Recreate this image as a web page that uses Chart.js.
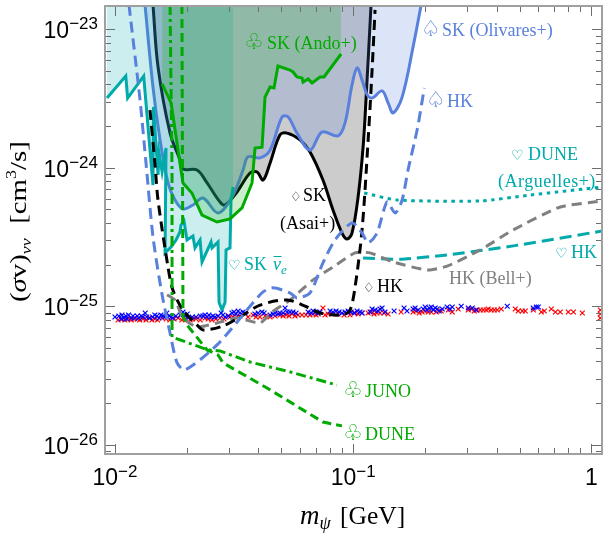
<!DOCTYPE html>
<html lang="en">
<head>
  <meta charset="UTF-8" />
  <title>Dark matter annihilation limits</title>
  <style>
    body { margin: 0; padding: 0; background: white; }
    canvas { display: block; }
  </style>
</head>
<body>
  <canvas id="limits" width="610" height="538"></canvas>

  <script src="https://cdn.jsdelivr.net/npm/chart.js"></script>
  <script>
    // values: mass in GeV, cross section in cm^3/s
    const skNuebarX = [.00926, .0111, .0113, .0132, .01444, .01451, .01516, .01531, .01577, .01638, .01623, .0172, .01805, .01875, .01893, .01949, .02006, .02125, .02168, .02276, .0232, .02531, .02556, .02708, .02735, .02815, .02899, .02927, .03041, .03071, .03133];
    const skNuebarY = [3.19e-24, 4.6e-24, 3.19e-24, 4.6e-24, 7.51e-25, 2.75e-24, 8.87e-25, 1.28e-24, 9.33e-25, 1.39e-24, 2.43e-25, 2.68e-25, 3.01e-25, 3.44e-25, 3.86e-25, 4.13e-25, 3.01e-25, 3.22e-25, 2.64e-25, 3.01e-25, 2.09e-25, 2.91e-25, 2.64e-25, 2.91e-25, 1.07e-25, 9.4e-26, 1.07e-25, 2.55e-25, 2.64e-25, 5.85e-25, 7.27e-25];

    const skAsaiX = [.01444, .01516, .01703, .01875, .0193, .0221, .02436, .02761, .02899, .03255, .0369, .0395, .04187, .04477, .04932, .0528, .05984, .06592, .07468, .0823, .0898, .0943, .0989, .1049, .1101, .1134, .1189];
    const skAsaiY = [1.5e-23, 5.35e-24, 1.78e-24, 1.14e-24, 9.8e-25, 9.64e-25, 7.77e-25, 5.66e-25, 5.39e-25, 6.69e-25, 9.17e-25, 9.33e-25, 8.16e-25, 1.08e-24, 1.73e-24, 1.78e-24, 1.59e-24, 1.3e-24, 8.16e-25, 4.96e-25, 3.38e-25, 3.06e-25, 3.38e-25, 6.15e-25, 1.41e-24, 3.24e-24, 1.5e-23];

    const skOlivaresX = [.01337, .01444, .01546, .0167, .01787, .0193, .02125, .02343, .02708, .03102, .0345, .0362, .04064, .04477, .05028, .05335, .0581, .06592, .07394, .0864, .09247, .0989, .1039, .109, .1145, .1201, .1323, .1402, .1472, .1606, .1785, .193];
    const skOlivaresY = [1.5e-23, 3.83e-24, 1.59e-24, 7.77e-25, 5.85e-25, 5.04e-25, 5.39e-25, 6.05e-25, 4.72e-25, 6.15e-25, 9.64e-25, 1.2e-24, 1.18e-24, 1.34e-24, 2.33e-24, 2.33e-24, 1.78e-24, 1.34e-24, 1.81e-24, 1.7e-24, 2.11e-24, 3.96e-24, 5.26e-24, 4.31e-24, 3.36e-24, 3.19e-24, 3.59e-24, 2.94e-24, 2.49e-24, 3.24e-24, 7.45e-24, 1.5e-23];

    const skAndoX = [.01577, .0172, .01875, .0193, .02103, .0232, .02682, .03041, .03415, .03762, .03873, .04145, .04266, .04477, .04653, .04836, .05433, .05594, .0581, .061, .0616, .06464, .0672, .07261, .07546, .089];
    const skAndoY = [4.03e-24, 2.94e-24, 1.08e-24, 7.77e-25, 6.58e-25, 4.56e-25, 4.06e-25, 4.27e-25, 5.13e-25, 7.77e-25, 1.39e-24, 1.41e-24, 3.24e-24, 3.83e-24, 3.77e-24, 5.43e-24, 5.08e-24, 4.92e-24, 4.53e-24, 4.45e-24, 4.16e-24, 4.38e-24, 4.1e-24, 4.53e-24, 4.53e-24, 6.63e-24];

    const hkBlackX = [.01403, .01473, .01516, .0167, .0175, .0193, .0221, .02343, .02844, .0335, .04064, .0528, .06403, .07261, .0907, .09705, .1019, .109, .1156, .1201, .1236];
    const hkBlackY = [2.61e-24, 1.05e-24, 5.85e-25, 1.92e-25, 1.31e-25, 9.4e-26, 7.33e-26, 6.75e-26, 7.21e-26, 8.37e-26, 1.02e-25, 1.11e-25, 9.88e-26, 8.95e-26, 8.65e-26, 9.4e-26, 1.38e-25, 3.56e-25, 1.59e-24, 5.08e-24, 1.38e-23];

    const hkBellX = [.01655, .01787, .0193, .0221, .02682, .03255, .04064, .04564, .05433, .06788, .0823, .1019, .1178, .1472, .2047, .2482, .3417, .4702, .741, 1.114];
    const hkBellY = [1.21e-25, 1.11e-25, 8.23e-26, 7.09e-26, 7.58e-26, 8.23e-26, 7.58e-26, 9.09e-26, 1.11e-25, 1.55e-25, 1.92e-25, 2.43e-25, 2.43e-25, 2.09e-25, 1.83e-25, 1.95e-25, 2.55e-25, 3.56e-25, 5.21e-25, 5.76e-25];

    const hkTealX = [.1101, .1574, .2482, .4702, 1.114];
    const hkTealY = [2.23e-25, 2.19e-25, 2.35e-25, 2.73e-25, 3.5e-25];

    const duneTealX = [.1112, .1531, .3417, .5543, 1.114];
    const duneTealY = [6.58e-25, 5.85e-25, 5.76e-25, 6.36e-25, 7.27e-25];

    const hkBlueX = [.01145, .01274, .0135, .01444, .01577, .01703, .01823, .01968, .02682, .03798, .04187, .04608, .05433, .0581, .06592, .07468, .08394, .0989, .109, .1156, .126, .1388, .1501, .1606, .17, .1857, .199];
    const hkBlueY = [1.5e-23, 3.09e-24, 1.08e-24, 3.17e-25, 1.21e-25, 6.41e-26, 3.9e-26, 3.47e-26, 5.26e-26, 1.06e-25, 1.27e-25, 1.36e-25, 1.25e-25, 1.15e-25, 1.25e-25, 2.06e-25, 3.01e-25, 4e-25, 3.38e-25, 2.87e-25, 3.38e-25, 5.66e-25, 4.72e-25, 5.85e-25, 9.64e-25, 1.88e-24, 3.77e-24];

    const junoX = [.01703, .01736, .01736, .02459, .02761, .0369, .05433, .0855];
    const junoY = [1.5e-23, 9.64e-25, 6e-26, 4.84e-26, 4.76e-26, 3.96e-26, 3.36e-26, 2.7e-26];

    const duneGreenX = [.0191, .0193, .02006, .02436, .02708, .02844, .04349, .07468, .0898];
    const duneGreenY = [1.5e-23, 8.37e-26, 7.33e-26, 4.84e-26, 4.45e-26, 3.9e-26, 2.57e-26, 1.46e-26, 1.37e-26];

    // the crosses along 10^-25
    const blueCrossX = [.01, .01039, .0106, .0107, .0109, .0111, .0112, .0114, .0117, .0119, .0121, .0124, .0126, .0129, .0131, .0134, .0136, .014, .0144, .0147, .015, .0153, .0156, .0159, .0162, .0165, .0169, .0172, .0175, .018, .0188, .0193, .0197, .0201, .0203, .0211, .0219, .0228, .0234, .0239, .0244, .0248, .0253, .0258, .0263, .0271, .0279, .0284, .029, .0299, .031, .0316, .0322, .0329, .0335, .0345, .0352, .0387, .0399, .0414, .0423, .0448, .0461, .047, .0484, .0493, .0508, .0518, .0528, .0543, .0559, .0576, .0647, .0666, .0679, .0692, .0713, .0726, .08, .0823, .0848, .0873, .0898, .0925, .0952, .098, .1009, .1039, .1069, .109, .1178, .1201, .1236, .1272, .1297, .1323, .1361, .1486, .1636, .1684, .1785, .182, .1875, .1968, .2006, .2047, .2087, .2128, .2169, .2211, .2254, .2298, .2366, .2482, .2556, .2606, .2843, .3044, .3162, .3288, .4437, .5706, .588, .5995];
    const blueCrossY = [8.37e-26, 8.51e-26, 8.1e-26, 8.65e-26, 8.23e-26, 8.51e-26, 8.1e-26, 8.65e-26, 8.23e-26, 8.51e-26, 8.23e-26, 8.51e-26, 8.23e-26, 8.51e-26, 8.37e-26, 8.95e-26, 8.37e-26, 8.23e-26, 8.37e-26, 8.65e-26, 8.51e-26, 8.23e-26, 8.65e-26, 8.51e-26, 8.37e-26, 8.95e-26, 8.51e-26, 8.37e-26, 8.23e-26, 8.51e-26, 8.65e-26, 9.09e-26, 8.51e-26, 8.8e-26, 8.23e-26, 8.37e-26, 8.37e-26, 8.51e-26, 8.51e-26, 8.65e-26, 8.37e-26, 8.65e-26, 8.37e-26, 8.51e-26, 8.37e-26, 8.51e-26, 8.95e-26, 8.65e-26, 8.37e-26, 8.51e-26, 8.95e-26, 9.09e-26, 8.8e-26, 9.25e-26, 8.95e-26, 9.09e-26, 8.95e-26, 8.8e-26, 8.95e-26, 9.09e-26, 8.95e-26, 8.65e-26, 8.8e-26, 8.95e-26, 8.8e-26, 8.95e-26, 8.95e-26, 9.72e-26, 9.09e-26, 9.09e-26, 9.09e-26, 8.95e-26, 9.09e-26, 8.95e-26, 9.25e-26, 9.09e-26, 8.95e-26, 9.09e-26, 9.25e-26, 9.09e-26, 9.25e-26, 9.09e-26, 8.95e-26, 9.09e-26, 9.25e-26, 9.09e-26, 8.95e-26, 9.25e-26, 9.09e-26, 8.95e-26, 9.09e-26, 9.56e-26, 9.4e-26, 9.25e-26, 9.56e-26, 9.72e-26, 9.09e-26, 9.25e-26, 9.72e-26, 9.25e-26, 9.56e-26, 9.72e-26, 9.4e-26, 9.56e-26, 9.88e-26, 9.4e-26, 9.72e-26, 9.88e-26, 9.4e-26, 9.72e-26, 9.56e-26, 9.25e-26, 9.56e-26, 9.88e-26, 9.56e-26, 9.88e-26, 1e-25, 9.72e-26, 9.72e-26, 9.4e-26, 1e-25, 9.72e-26, 9.88e-26, 9.88e-26];

    const redCrossX = [.0103, .0107, .011, .0113, .0117, .012, .0124, .0127, .0131, .0135, .0139, .0143, .0147, .0151, .0158, .0164, .017, .0177, .0184, .0191, .0199, .0207, .0211, .0219, .0228, .0239, .0246, .0255, .0265, .0276, .0287, .0299, .0304, .0313, .0325, .0335, .0362, .038, .0391, .0406, .0427, .0448, .047, .0493, .0508, .0523, .0538, .0554, .057, .0587, .061, .0634, .0659, .0679, .0699, .0713, .0747, .0762, .0784, .0815, .0864, .0916, .097, .1019, .1049, .109, .1156, .119, .1224, .126, .1297, .1348, .1402, .159, .1785, .1838, .1893, .1949, .2006, .2066, .2128, .2233, .2343, .2507, .2606, .2761, .3044, .3133, .3225, .3319, .3417, .3517, .362, .369, .3802, .3913, .4029, .4186, .4794, .4936, .513, .5282, .5706, .6167, .635, .6792, .707, .741, .8008, .8415, .917, 1.091, 1.091, 1.091];
    const redCrossY = [7.96e-26, 8.1e-26, 7.96e-26, 8.1e-26, 7.96e-26, 8.1e-26, 8.1e-26, 7.96e-26, 8.1e-26, 7.96e-26, 8.23e-26, 7.96e-26, 8.1e-26, 7.96e-26, 8.23e-26, 8.1e-26, 7.96e-26, 8.1e-26, 8.23e-26, 7.96e-26, 8.1e-26, 7.96e-26, 8.1e-26, 8.1e-26, 7.96e-26, 8.23e-26, 8.1e-26, 7.96e-26, 8.1e-26, 8.23e-26, 8.1e-26, 8.51e-26, 8.37e-26, 8.37e-26, 8.37e-26, 8.51e-26, 8.37e-26, 8.65e-26, 8.37e-26, 8.37e-26, 8.51e-26, 8.37e-26, 8.51e-26, 8.65e-26, 8.51e-26, 8.65e-26, 8.51e-26, 8.8e-26, 8.51e-26, 8.65e-26, 8.65e-26, 8.65e-26, 8.65e-26, 8.8e-26, 8.65e-26, 8.8e-26, 9.72e-26, 8.65e-26, 8.8e-26, 8.8e-26, 8.8e-26, 8.65e-26, 8.65e-26, 8.95e-26, 8.8e-26, 8.95e-26, 8.95e-26, 9.09e-26, 8.8e-26, 8.95e-26, 8.95e-26, 8.95e-26, 8.8e-26, 9.09e-26, 9.09e-26, 9.25e-26, 8.95e-26, 9.09e-26, 9.25e-26, 9.09e-26, 9.09e-26, 9.09e-26, 9.25e-26, 9.4e-26, 9.09e-26, 9.56e-26, 9.4e-26, 9.56e-26, 9.25e-26, 9.4e-26, 9.4e-26, 9.4e-26, 9.4e-26, 9.56e-26, 9.4e-26, 9.4e-26, 9.4e-26, 9.56e-26, 9.56e-26, 9.25e-26, 9.25e-26, 9.25e-26, 9.4e-26, 9.09e-26, 9.25e-26, 9.56e-26, 9.09e-26, 9.09e-26, 9.09e-26, 9.09e-26, 8.95e-26, 9.4e-26, 8.8e-26, 8.23e-26];

    const xMajorTicks = [.01, .1, 1];
    const xMinorTicks = [.02, .03, .04, .05, .06, .07, .08, .09, .2, .3, .4, .5, .6, .7, .8, .9];
    const yMajorTicks = [1e-23, 1e-24, 1e-25, 1e-26];
    const yMinorTicks = [9e-24, 8e-24, 7e-24, 6e-24, 5e-24, 4e-24, 3e-24, 2e-24, 9e-25, 8e-25, 7e-25, 6e-25, 5e-25, 4e-25, 3e-25, 2e-25, 9e-26, 8e-26, 7e-26, 6e-26, 5e-26, 4e-26, 3e-26, 2e-26, 9e-27];
    const xTickLabels = [['10', '\u22122'], ['10', '\u22121'], ['1', '']];
    const yTickLabels = [['10', '\u221223'], ['10', '\u221224'], ['10', '\u221225'], ['10', '\u221226']];

    const GREEN = '#00aa00';
    const TEAL = '#00aaaa';
    const BLUE = '#5a80dd';
    const GRAY = '#808080';
    const SERIF = "'Liberation Serif'";
    const SUIT = "'DejaVu Sans'";

    function zip(xs, ys) {
      return xs.map((x, i) => ({ x: x, y: ys[i] }));
    }

    function curve(xs, ys, color, order, extra) {
      return Object.assign({
        data: zip(xs, ys),
        showLine: true,
        borderColor: color,
        borderWidth: 3,
        pointRadius: 0,
        fill: false,
        tension: 0,
        order: order
      }, extra);
    }

    function crosses(xs, ys, color, order) {
      return {
        data: zip(xs, ys),
        showLine: false,
        pointStyle: 'crossRot',
        pointRadius: 3.4,
        pointBorderColor: color,
        pointBorderWidth: 1.2,
        order: order
      };
    }

    // runs of text laid end to end: [text, font, color, shift up]
    function drawRuns(ctx, x, y, runs) {
      ctx.textAlign = 'left';
      ctx.textBaseline = 'alphabetic';
      runs.forEach(r => {
        ctx.font = r[1];
        ctx.fillStyle = r[2];
        ctx.fillText(r[0], x, y - (r[3] || 0));
        x += ctx.measureText(r[0]).width;
      });
      return x;
    }

    function drawNote(ctx, suit, suitX, text, textX, y, color, size) {
      ctx.textAlign = 'left';
      ctx.textBaseline = 'alphabetic';
      if (suit) {
        ctx.font = size + 'px ' + SUIT;
        ctx.fillStyle = color;
        ctx.fillText(suit, suitX, y);
      }
      ctx.font = '18px ' + SERIF;
      ctx.fillStyle = color;
      ctx.fillText(text, textX, y);
    }

    const framePlugin = {
      id: 'frame',
      afterDraw(chart) {
        const ctx = chart.ctx;
        const a = chart.chartArea;
        const xs = chart.scales.x;
        const ys = chart.scales.y;
        ctx.save();

        // inward ticks on all four sides
        ctx.strokeStyle = '#6e6e6e';
        ctx.lineWidth = 1;
        function xTick(v, len) {
          const p = Math.round(xs.getPixelForValue(v)) + .5;
          ctx.beginPath();
          ctx.moveTo(p, a.bottom); ctx.lineTo(p, a.bottom - len);
          ctx.moveTo(p, a.top); ctx.lineTo(p, a.top + len);
          ctx.stroke();
        }
        function yTick(v, len) {
          const p = Math.round(ys.getPixelForValue(v)) + .5;
          ctx.beginPath();
          ctx.moveTo(a.left, p); ctx.lineTo(a.left + len, p);
          ctx.moveTo(a.right, p); ctx.lineTo(a.right - len, p);
          ctx.stroke();
        }
        xMajorTicks.forEach(v => xTick(v, 10));
        xMinorTicks.forEach(v => xTick(v, 6));
        yMajorTicks.forEach(v => yTick(v, 10));
        yMinorTicks.forEach(v => yTick(v, 6));

        ctx.strokeStyle = '#a0a0a0';
        ctx.lineWidth = 2;
        ctx.strokeRect(a.left, a.top, a.right - a.left, a.bottom - a.top);

        // tick labels
        const big = "23px 'Liberation Sans'";
        const small = "17px 'Liberation Sans'";
        xMajorTicks.forEach((v, i) => {
          const l = xTickLabels[i];
          ctx.font = big;
          let w = ctx.measureText(l[0]).width;
          ctx.font = small;
          w += ctx.measureText(l[1]).width;
          drawRuns(ctx, xs.getPixelForValue(v) - w / 2, 485, [[l[0], big, '#000'], [l[1], small, '#000', 8]]);
        });
        yMajorTicks.forEach((v, i) => {
          const l = yTickLabels[i];
          const p = ys.getPixelForValue(v);
          ctx.font = big;
          let w = ctx.measureText(l[0]).width;
          ctx.font = small;
          w += ctx.measureText(l[1]).width;
          drawRuns(ctx, 98 - w, p + 9, [[l[0], big, '#000'], [l[1], small, '#000', 9]]);
        });

        // axis titles
        drawRuns(ctx, 300, 524, [
          ['m', 'italic 27px ' + SERIF, '#000'],
          ['\u03c8', 'italic 18px ' + SERIF, '#000', -5]
        ]);
        drawRuns(ctx, 340, 524, [['[GeV]', '25.5px ' + SERIF, '#000']]);
        ctx.save();
        ctx.translate(26, 302);
        ctx.rotate(-Math.PI / 2);
        ctx.scale(1.2, 1);
        drawRuns(ctx, 0, 0, [
          ['(', '24px ' + SERIF, '#000'],
          ['\u03c3', 'italic 24px ' + SERIF, '#000'],
          ['v', '24px ' + SERIF, '#000'],
          [')', '24px ' + SERIF, '#000'],
          ['\u03bd\u03bd', 'italic 15px ' + SERIF, '#000', -5],
          ['  [cm', '24px ' + SERIF, '#000'],
          ['3', '15px ' + SERIF, '#000', 10],
          ['/s]', '24px ' + SERIF, '#000']
        ]);
        ctx.restore();

        // curve names
        drawNote(ctx, '\u2667', 244, 'SK (Ando+)', 267, 49, GREEN, 22);
        drawNote(ctx, '\u2664', 421, 'SK (Olivares+)', 442, 36, BLUE, 22);
        drawNote(ctx, '\u2664', 426, 'HK', 447, 107, BLUE, 22);
        drawNote(ctx, '\u2661', 511, 'DUNE', 528, 160, TEAL, 14);
        ctx.letterSpacing = '0.5px';
        drawNote(ctx, '', 0, '(Arguelles+)', 498, 187, TEAL, 14);
        ctx.letterSpacing = '0px';
        drawNote(ctx, '\u2661', 555, 'HK', 571, 258, TEAL, 14);
        drawNote(ctx, '', 0, 'HK (Bell+)', 449, 284, GRAY, 14);
        drawNote(ctx, '\u2662', 363, 'HK', 377, 292, '#000', 13);
        drawNote(ctx, '\u2662', 290, 'SK', 303, 201, '#000', 13);
        drawNote(ctx, '', 0, '(Asai+)', 280, 229, '#000', 14);
        drawNote(ctx, '\u2667', 343, 'JUNO', 365, 397, GREEN, 22);
        drawNote(ctx, '\u2667', 343, 'DUNE', 365, 440, GREEN, 22);

        drawNote(ctx, '\u2661', 228, 'SK', 244, 270, TEAL, 14);
        const nuX = drawRuns(ctx, 273, 270, [['\u03bd', 'italic 18px ' + SERIF, TEAL]]);
        drawRuns(ctx, nuX, 270, [['e', 'italic 13px ' + SERIF, TEAL, -4]]);
        ctx.strokeStyle = TEAL;
        ctx.lineWidth = 1;
        ctx.beginPath();
        ctx.moveTo(273.5, 256.5);
        ctx.lineTo(281.5, 256.5);
        ctx.stroke();

        ctx.restore();
      }
    };

    new Chart(document.getElementById('limits'), {
      type: 'scatter',
      data: {
        datasets: [
          curve(skAsaiX, skAsaiY, '#000', 11, { fill: 'end', backgroundColor: 'rgba(0,0,0,0.2)', tension: .35 }),
          curve(skOlivaresX, skOlivaresY, BLUE, 10, { fill: 'end', backgroundColor: 'rgba(80,125,220,0.2)', tension: .35 }),
          curve(skNuebarX, skNuebarY, TEAL, 9, { fill: 'end', backgroundColor: 'rgba(0,170,170,0.2)' }),
          curve(skAndoX, skAndoY, GREEN, 7, { fill: 'end', backgroundColor: 'rgba(0,170,0,0.2)' }),
          crosses(redCrossX, redCrossY, '#f00', 6),
          crosses(blueCrossX, blueCrossY, '#00f', 5),
          curve(hkBellX, hkBellY, GRAY, 4, { borderDash: [10, 6], tension: .2 }),
          curve(hkTealX, hkTealY, TEAL, 4, { borderDash: [12, 6], tension: .2 }),
          curve(duneTealX, duneTealY, TEAL, 4, { borderDash: [3.5, 4.5], tension: .2 }),
          curve(hkBlackX, hkBlackY, '#000', 3, { borderDash: [10, 6], tension: .3 }),
          curve(hkBlueX, hkBlueY, BLUE, 2, { borderDash: [11, 6], tension: .25 }),
          curve(junoX, junoY, GREEN, 1, { borderDash: [10, 4, 3, 4] }),
          curve(duneGreenX, duneGreenY, GREEN, 1, { borderDash: [9, 5] })
        ]
      },
      options: {
        responsive: false,
        animation: false,
        devicePixelRatio: 1,
        layout: { padding: { left: 105, right: 8, top: 6, bottom: 84 } },
        plugins: { legend: { display: false }, tooltip: { enabled: false } },
        scales: {
          x: {
            type: 'logarithmic',
            min: .00908,
            max: 1.109,
            grid: { display: false, drawTicks: false },
            border: { display: false },
            ticks: { display: false }
          },
          y: {
            type: 'logarithmic',
            min: 8.58e-27,
            max: 1.473e-23,
            grid: { display: false, drawTicks: false },
            border: { display: false },
            ticks: { display: false }
          }
        }
      },
      plugins: [framePlugin]
    });
  </script>
</body>
</html>
